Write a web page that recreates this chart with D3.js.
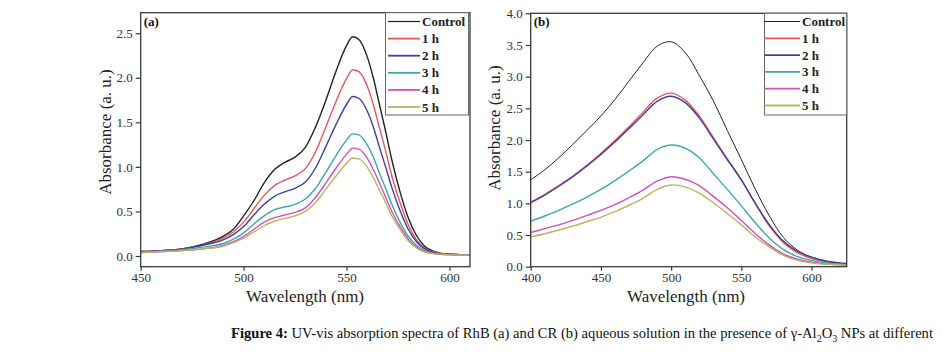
<!DOCTYPE html>
<html>
<head>
<meta charset="utf-8">
<script src="https://cdnjs.cloudflare.com/ajax/libs/d3/7.8.5/d3.min.js"></script>
<style>
  html, body { margin: 0; padding: 0; background: #fff; }
  svg { display: block; }
</style>
</head>
<body>
<svg id="chart" width="943" height="356"></svg>
<script>
// ---------------- DATA ----------------
const seriesNames = ["Control", "1 h", "2 h", "3 h", "4 h", "5 h"];
const seriesColors = ["#222222", "#e8575c", "#3f3f9e", "#3aa9aa", "#d04fc0", "#bcb35c"];

// Panel (a): RhB
const wavelengthA = [450, 460, 470, 480, 490, 495, 500, 505, 510, 515, 520, 525, 530, 535, 540, 545, 550, 553, 556, 560, 563, 566, 569, 572, 576, 580, 584, 588, 592, 596, 600, 605, 610];
const rhbControl = [0.05, 0.06, 0.08, 0.13, 0.22, 0.30, 0.45, 0.62, 0.82, 0.97, 1.05, 1.11, 1.22, 1.45, 1.75, 2.08, 2.36, 2.46, 2.43, 2.24, 2.00, 1.70, 1.40, 1.08, 0.72, 0.43, 0.23, 0.11, 0.055, 0.03, 0.02, 0.015, 0.01];
const rhb1h      = [0.05, 0.06, 0.08, 0.12, 0.20, 0.27, 0.38, 0.53, 0.68, 0.79, 0.85, 0.90, 0.98, 1.17, 1.45, 1.74, 1.99, 2.09, 2.07, 1.91, 1.70, 1.44, 1.18, 0.90, 0.60, 0.35, 0.18, 0.09, 0.045, 0.03, 0.02, 0.015, 0.01];
const rhb2h      = [0.05, 0.06, 0.08, 0.12, 0.18, 0.24, 0.33, 0.46, 0.58, 0.67, 0.72, 0.76, 0.83, 0.99, 1.23, 1.48, 1.70, 1.79, 1.77, 1.63, 1.45, 1.22, 1.00, 0.77, 0.51, 0.30, 0.16, 0.08, 0.04, 0.025, 0.02, 0.015, 0.01];
const rhb3h      = [0.04, 0.05, 0.07, 0.10, 0.14, 0.19, 0.26, 0.36, 0.45, 0.52, 0.55, 0.58, 0.64, 0.76, 0.94, 1.13, 1.30, 1.37, 1.36, 1.25, 1.11, 0.93, 0.76, 0.58, 0.38, 0.22, 0.12, 0.06, 0.03, 0.02, 0.015, 0.012, 0.01];
const rhb4h      = [0.04, 0.05, 0.06, 0.08, 0.12, 0.16, 0.22, 0.30, 0.38, 0.43, 0.46, 0.49, 0.54, 0.66, 0.82, 0.99, 1.14, 1.21, 1.20, 1.10, 0.97, 0.82, 0.66, 0.50, 0.33, 0.19, 0.10, 0.05, 0.03, 0.02, 0.015, 0.012, 0.01];
const rhb5h      = [0.04, 0.05, 0.06, 0.08, 0.11, 0.15, 0.20, 0.27, 0.34, 0.39, 0.42, 0.45, 0.50, 0.60, 0.75, 0.90, 1.04, 1.10, 1.09, 1.00, 0.88, 0.74, 0.60, 0.45, 0.30, 0.17, 0.09, 0.045, 0.028, 0.018, 0.014, 0.011, 0.01];

// Panel (b): CR
const wavelengthB = [400, 410, 420, 430, 440, 450, 460, 470, 480, 490, 500, 510, 520, 530, 540, 550, 560, 570, 580, 590, 600, 610, 620, 625];
const crControl = [1.37, 1.53, 1.72, 1.93, 2.15, 2.38, 2.64, 2.93, 3.22, 3.48, 3.55, 3.38, 3.02, 2.62, 2.15, 1.69, 1.22, 0.80, 0.46, 0.26, 0.15, 0.09, 0.05, 0.04];
const cr1h      = [1.02, 1.14, 1.28, 1.43, 1.60, 1.79, 1.99, 2.21, 2.44, 2.66, 2.74, 2.63, 2.38, 2.04, 1.70, 1.37, 0.99, 0.64, 0.38, 0.22, 0.13, 0.08, 0.05, 0.04];
const cr2h      = [1.01, 1.13, 1.27, 1.42, 1.59, 1.77, 1.97, 2.18, 2.40, 2.61, 2.69, 2.59, 2.35, 2.02, 1.69, 1.37, 1.00, 0.66, 0.40, 0.24, 0.15, 0.09, 0.06, 0.05];
const cr3h      = [0.72, 0.80, 0.89, 0.99, 1.10, 1.22, 1.36, 1.51, 1.67, 1.85, 1.92, 1.87, 1.72, 1.47, 1.22, 0.96, 0.69, 0.45, 0.27, 0.16, 0.10, 0.06, 0.04, 0.03];
const cr4h      = [0.54, 0.60, 0.66, 0.73, 0.81, 0.89, 0.98, 1.09, 1.21, 1.35, 1.42, 1.38, 1.28, 1.11, 0.93, 0.73, 0.52, 0.34, 0.20, 0.12, 0.07, 0.04, 0.03, 0.02];
const cr5h      = [0.47, 0.52, 0.58, 0.64, 0.71, 0.78, 0.87, 0.97, 1.08, 1.22, 1.29, 1.26, 1.16, 1.01, 0.84, 0.66, 0.47, 0.31, 0.18, 0.10, 0.06, 0.04, 0.03, 0.02];

const xTicksA = [450, 500, 550, 600];
const xTicksB = [400, 450, 500, 550, 600];
const yTicksA = [0.0, 0.5, 1.0, 1.5, 2.0, 2.5];
const yTicksB = [0.0, 0.5, 1.0, 1.5, 2.0, 2.5, 3.0, 3.5, 4.0];

const yLabel = "Absorbance (a. u.)";
const xLabel = "Wavelength (nm)";
const captionBold = "Figure 4:";
const captionRest = " UV-vis absorption spectra of RhB (a) and CR (b) aqueous solution in the presence of γ-Al";

// ---------------- DRAW ----------------
const svg = d3.select("#chart");
svg.append("rect").attr("width", 943).attr("height", 356).attr("fill", "#fff");

const FONT = "'Liberation Serif', 'Times New Roman', serif";
const AXIS_COLOR = "#3a3a3a";

function panel(cfg) {
  const x = d3.scaleLinear().domain(cfg.xDomain).range([cfg.left, cfg.right]);
  const y = d3.scaleLinear().domain(cfg.yDomain).range([cfg.bottom, cfg.top]);
  const g = svg.append("g");

  const clipId = "clip-" + cfg.id;
  svg.append("clipPath").attr("id", clipId).append("rect")
    .attr("x", cfg.left).attr("y", cfg.top)
    .attr("width", cfg.right - cfg.left).attr("height", cfg.bottom - cfg.top);

  const line = d3.line()
    .x((d, i) => x(cfg.wl[i]))
    .y(d => y(d))
    .curve(cfg.curve);
  const lg = g.append("g").attr("clip-path", `url(#${clipId})`);
  cfg.series.forEach((s, i) => {
    lg.append("path")
      .attr("d", line(s))
      .attr("fill", "none")
      .attr("stroke", seriesColors[i])
      .attr("stroke-width", i === 0 ? cfg.ctrlWidth : 1.4)
      .attr("stroke-linejoin", "round");
  });

  // frame
  g.append("rect")
    .attr("x", cfg.left).attr("y", cfg.top)
    .attr("width", cfg.right - cfg.left).attr("height", cfg.bottom - cfg.top)
    .attr("fill", "none").attr("stroke", AXIS_COLOR).attr("stroke-width", 1.3);

  // axes
  const xAxis = g.append("g").attr("transform", `translate(0,${cfg.bottom})`)
    .call(d3.axisBottom(x).tickValues(cfg.xTicks).tickSize(4).tickPadding(2).tickFormat(d3.format("d")));
  const yAxis = g.append("g").attr("transform", `translate(${cfg.left},0)`)
    .call(d3.axisLeft(y).tickValues(cfg.yTicks).tickSize(5).tickPadding(3).tickFormat(d3.format(".1f")));
  [xAxis, yAxis].forEach(a => {
    a.select(".domain").remove();
    a.selectAll(".tick line").attr("stroke", AXIS_COLOR).attr("stroke-width", 1.2);
    a.selectAll(".tick text").attr("font-family", FONT).attr("font-size", 13).attr("fill", "#333");
  });

  // axis titles
  g.append("text")
    .attr("transform", `translate(${cfg.yTitleX},${cfg.yTitleY}) rotate(-90)`)
    .attr("text-anchor", "middle")
    .attr("font-family", FONT).attr("font-size", 17).attr("fill", "#222")
    .text(yLabel);
  g.append("text")
    .attr("x", cfg.xTitleX).attr("y", 302)
    .attr("text-anchor", "middle")
    .attr("font-family", FONT).attr("font-size", 17).attr("fill", "#222")
    .text(xLabel);

  // panel label
  g.append("text")
    .attr("x", cfg.left + 3).attr("y", cfg.top + 13)
    .attr("font-family", FONT).attr("font-size", 13).attr("font-weight", "bold").attr("fill", "#111")
    .text(cfg.label);

  // legend
  const L = cfg.legend;
  g.append("rect")
    .attr("x", L.x0).attr("y", cfg.top)
    .attr("width", L.x1 - L.x0).attr("height", L.y1 - cfg.top)
    .attr("fill", "#fff").attr("stroke", "#666").attr("stroke-width", 1);
  seriesNames.forEach((name, i) => {
    const yy = L.yStart + i * L.dy;
    g.append("line")
      .attr("x1", L.lx0).attr("x2", L.lx1).attr("y1", yy).attr("y2", yy)
      .attr("stroke", seriesColors[i]).attr("stroke-width", i === 0 ? 1.2 : 1.8);
    g.append("text")
      .attr("x", L.lx1 + 2).attr("y", yy + 4.5)
      .attr("font-family", FONT).attr("font-size", 13).attr("font-weight", "bold").attr("fill", "#222")
      .text(name);
  });
}

panel({
  id: "a", label: "(a)",
  left: 140.7, right: 470, top: 12.7, bottom: 266.7,
  xDomain: [450, 610], yDomain: [-0.12, 2.73],
  xTicks: xTicksA, yTicks: yTicksA,
  wl: wavelengthA,
  series: [rhbControl, rhb1h, rhb2h, rhb3h, rhb4h, rhb5h],
  curve: d3.curveMonotoneX,
  ctrlWidth: 1.4,
  yTitleX: 111, yTitleY: 132, xTitleX: 305,
  legend: { x0: 385.5, x1: 468.5, y1: 115, lx0: 388, lx1: 420, yStart: 21.5, dy: 17.1 }
});

panel({
  id: "b", label: "(b)",
  left: 530.7, right: 846.7, top: 13.3, bottom: 266.7,
  xDomain: [400, 625], yDomain: [0, 4],
  xTicks: xTicksB, yTicks: yTicksB,
  wl: wavelengthB,
  series: [crControl, cr1h, cr2h, cr3h, cr4h, cr5h],
  curve: d3.curveCatmullRom.alpha(0.5),
  ctrlWidth: 1.0,
  yTitleX: 500, yTitleY: 128, xTitleX: 686,
  legend: { x0: 764.5, x1: 846.7, y1: 115, lx0: 764.5, lx1: 800, yStart: 21.5, dy: 16.8 }
});

// caption
const cap = svg.append("text")
  .attr("x", 231).attr("y", 338)
  .attr("font-family", FONT).attr("font-size", 14.6).attr("fill", "#111");
cap.append("tspan").attr("font-weight", "bold").text(captionBold);
cap.append("tspan").text(captionRest);
cap.append("tspan").attr("font-size", 10).attr("dy", 4).text("2");
cap.append("tspan").attr("dy", -4).text("O");
cap.append("tspan").attr("font-size", 10).attr("dy", 4).text("3");
cap.append("tspan").attr("dy", -4).text(" NPs at different");
</script>
</body>
</html>
